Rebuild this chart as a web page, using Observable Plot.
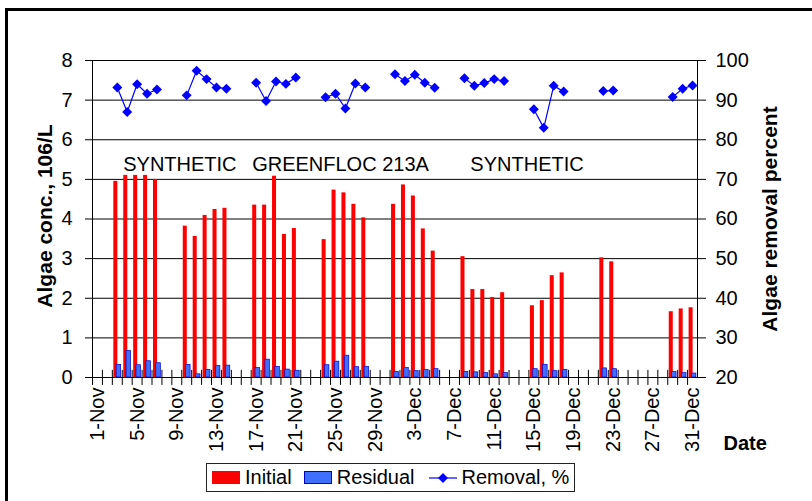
<!DOCTYPE html>
<html><head><meta charset="utf-8">
<script src="https://cdn.jsdelivr.net/npm/d3@7"></script>
<script src="https://cdn.jsdelivr.net/npm/@observablehq/plot@0.6"></script>
<style>
html,body{margin:0;padding:0;background:#fff;}
#wrap{position:relative;width:812px;height:501px;overflow:hidden;font-family:"Liberation Sans",Arial,sans-serif;}
#border{position:absolute;left:5px;top:8px;width:900px;height:600px;border-top:3px solid #000;border-left:3px solid #000;pointer-events:none;}
#legend{position:absolute;left:206px;top:463px;width:369px;height:29px;box-sizing:border-box;border:1px solid #222;display:flex;align-items:center;font-size:20px;color:#000;background:#fff;}
.sw{display:inline-block;width:28px;height:13px;box-sizing:border-box;}
</style>
</head><body>
<div id="wrap">
<div id="chart"></div>
<div id="legend">
  <span class="sw" style="background:#ff0000;margin-left:5px;"></span><span style="margin-left:5px;">Initial</span>
  <span class="sw" style="background:#3f6fff;border:1px solid #0000cc;margin-left:12px;"></span><span style="margin-left:5px;">Residual</span>
  <svg width="28" height="14" style="margin-left:14px;"><line x1="0" y1="7" x2="28" y2="7" stroke="#0000ff" stroke-width="1.2"/><polygon points="14,2 19,7 14,12 9,7" fill="#0000ff"/></svg><span style="margin-left:5px;">Removal, %</span>
</div>
<div id="border"></div>
</div>
<script>
// ---- data ----
const sampleDays = ["3-Nov","4-Nov","5-Nov","6-Nov","7-Nov",
  "10-Nov","11-Nov","12-Nov","13-Nov","14-Nov",
  "17-Nov","18-Nov","19-Nov","20-Nov","21-Nov",
  "24-Nov","25-Nov","26-Nov","27-Nov","28-Nov",
  "1-Dec","2-Dec","3-Dec","4-Dec","5-Dec",
  "8-Dec","9-Dec","10-Dec","11-Dec","12-Dec",
  "15-Dec","16-Dec","17-Dec","18-Dec",
  "22-Dec","23-Dec",
  "29-Dec","30-Dec","31-Dec"];
const initial = [4.95,5.1,5.1,5.1,5.0,
  3.82,3.56,4.09,4.24,4.27,
  4.35,4.35,5.08,3.61,3.76,
  3.48,4.73,4.66,4.37,4.03,
  4.37,4.86,4.58,3.75,3.19,
  3.05,2.22,2.22,2.02,2.14,
  1.81,1.94,2.57,2.64,
  3.02,2.92,
  1.66,1.73,1.76];
const residual = [0.32,0.67,0.31,0.41,0.36,
  0.32,0.08,0.19,0.29,0.30,
  0.24,0.45,0.27,0.20,0.17,
  0.31,0.40,0.55,0.26,0.27,
  0.14,0.24,0.16,0.19,0.21,
  0.14,0.13,0.11,0.08,0.11,
  0.21,0.32,0.16,0.19,
  0.23,0.21,
  0.14,0.11,0.10];
const removal = [93.2,87.0,94.0,91.6,92.7,
  91.2,97.4,95.3,93.2,92.9,
  94.4,89.8,94.7,94.1,95.7,
  90.7,91.6,87.9,94.2,93.2,
  96.5,94.8,96.4,94.4,93.1,
  95.5,93.6,94.3,95.3,94.8,
  87.7,83.0,93.6,92.2,
  92.3,92.4,
  90.8,92.9,93.7];
const xTickLabels = ["1-Nov","5-Nov","9-Nov","13-Nov","17-Nov","21-Nov","25-Nov","29-Nov",
  "3-Dec","7-Dec","11-Dec","15-Dec","19-Dec","23-Dec","27-Dec","31-Dec"];
const leftTicks = [0,1,2,3,4,5,6,7,8];
const rightTicks = [20,30,40,50,60,70,80,90,100];
const annotLabels = ["SYNTHETIC","GREENFLOC 213A","SYNTHETIC"];
const annotDays = ["4-Nov","17-Nov","9-Dec"];
const annotLevel = [5.38,5.38,5.38];

// category axis: every day 1-Nov .. 31-Dec
const months = [["Nov",30],["Dec",31]];
const allDays = [];
for (const [m,n] of months) for (let d=1; d<=n; d++) allDays.push(d+"-"+m);

// removal % (right axis 20..100) mapped onto left axis (0..8)
const toLeft = p => (p - 20) / 10;

const rows = allDays.map(day => {
  const k = sampleDays.indexOf(day);
  return {day,
    initial: k >= 0 ? initial[k] : null,
    residual: k >= 0 ? residual[k] : null,
    removal: k >= 0 ? removal[k] : null};
});
const measured = rows.filter(r => r.initial != null);
const annots = annotLabels.map((t,i) => ({label:t, day:annotDays[i], y:annotLevel[i]}));

const W = 812, H = 460, mL = 92, mR = 115, mT = 60, mB = 83;
const bw = (W - mL - mR) / allDays.length;

const chart = Plot.plot({
  width: W, height: H,
  marginLeft: mL, marginRight: mR, marginTop: mT, marginBottom: mB,
  style: {fontFamily: '"Liberation Sans", Arial, sans-serif', fontSize: "20px", color: "#000", background: "#fff", overflow: "visible"},
  x: {type: "band", domain: allDays, padding: 0, axis: null},
  y: {domain: [0, 8], axis: null},
  marks: [
    Plot.ruleY(leftTicks.slice(1), {stroke: "#000", strokeWidth: 1}),
    Plot.barY(measured, {x: "day", y: "initial", fill: "#ff0000", insetLeft: 1.5, insetRight: 4.4}),
    Plot.barY(measured, {x: "day", y: "residual", fill: "#3f6fff", stroke: "#0000cc", strokeWidth: 0.7, insetLeft: 4.3, insetRight: 1.1}),
    Plot.frame({stroke: "#000", strokeWidth: 1}),
    Plot.ruleX(allDays, {x: d => d, y1: -0.2, y2: 0.18, stroke: "#000", strokeWidth: 1, dx: -bw/2}),
    Plot.line(rows, {x: "day", y: d => d.removal == null ? NaN : toLeft(d.removal), stroke: "#0000ff", strokeWidth: 1.2}),
    Plot.dot(measured, {x: "day", y: d => toLeft(d.removal), symbol: "diamond2", fill: "#0000ff", stroke: "none", r: 4.5}),
    Plot.text(annots, {x: "day", y: "y", text: "label", textAnchor: "start", dx: -4, fontSize: 20, fill: "#000"}),
    Plot.axisY({anchor: "left", ticks: leftTicks, tickSize: 7, tickPadding: 13, label: null, fontSize: 20}),
    Plot.axisY({anchor: "right", ticks: rightTicks.map(toLeft), tickFormat: v => String(Math.round(v*10+20)), tickSize: 8, tickPadding: 10, label: null, fontSize: 20}),
    Plot.axisX({anchor: "bottom", ticks: xTickLabels, tickSize: 0, tickRotate: -90, tickPadding: 10, label: null, fontSize: 20}),
    Plot.text(["Algae conc., 106/L"], {frameAnchor: "left", textAnchor: "middle", rotate: -90, dx: -47, dy: -3, fontWeight: "bold", fontSize: 21, fill: "#000"}),
    Plot.text(["Algae removal percent"], {frameAnchor: "right", textAnchor: "middle", rotate: -90, dx: 73, dy: 0, fontWeight: "bold", fontSize: 21, fill: "#000"}),
    Plot.text(["Date"], {frameAnchor: "bottom-right", textAnchor: "start", dx: 26, dy: 72, fontWeight: "bold", fontSize: 20, fill: "#000"})
  ]
});
document.getElementById("chart").appendChild(chart);
</script>
</body></html>
